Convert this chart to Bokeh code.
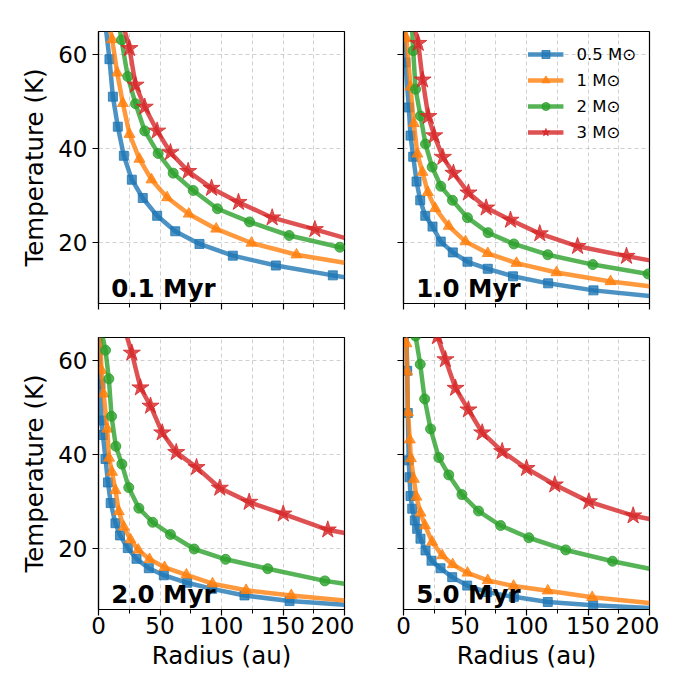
from bokeh.plotting import figure
from bokeh.models import FixedTicker, Label, CustomJSTickFormatter, Range1d
from bokeh.layouts import row, column
from bokeh.embed import file_html
from bokeh.resources import INLINE

AGES = ["0.1 Myr", "1.0 Myr", "2.0 Myr", "5.0 Myr"]
MASSES = ["0.5 M\u2299", "1 M\u2299", "2 M\u2299", "3 M\u2299"]
X_TICKS = [0, 50, 100, 150, 200]
X_MINOR = [25, 75, 125, 175]
Y_TICKS = [20, 40, 60]

# ---- 0.1 Myr (first/last entries are where the curve leaves the frame) ----
r_01_m05 = [6.3, 8.9, 11.7, 15.7, 20.6, 27.1, 36.0, 47.7, 62.4, 82.1, 109.2, 144.2, 190.5, 200]
t_01_m05 = [65, 59.1, 51.1, 44.7, 38.5, 33.4, 29.5, 25.7, 22.4, 19.7, 17.2, 15.1, 13.0, 12.6]
r_01_m1 = [9.8, 11.1, 15.2, 19.8, 25.2, 33.3, 43.1, 55.8, 73.4, 95.7, 124.4, 161.0, 200]
t_01_m1 = [65, 63.3, 56.2, 49.7, 43.1, 37.8, 33.4, 29.6, 26.1, 22.9, 19.9, 17.4, 15.7]
r_01_m2 = [17.6, 18.7, 23.8, 30.1, 37.6, 48.5, 60.7, 77.0, 96.7, 122.8, 155.0, 196.2, 200]
t_01_m2 = [65, 63.2, 55.4, 49.6, 43.8, 39.0, 34.8, 31.1, 27.2, 24.4, 21.5, 19.0, 18.9]
r_01_m3 = [21.5, 25.2, 30.1, 37.6, 47.7, 58.5, 72.9, 91.9, 113.8, 141.2, 175.9, 200]
t_01_m3 = [65, 61.4, 53.6, 48.9, 43.8, 39.2, 35.2, 31.6, 28.6, 25.3, 22.8, 21.0]

# ---- 1.0 Myr ----
r_10_m05 = [0.5, 1.6, 4.3, 5.7, 7.9, 10.6, 13.6, 17.7, 23.6, 30.3, 40.1, 52.0, 68.5, 89.0, 117.6, 154.5, 200]
t_10_m05 = [65, 58.4, 48.8, 42.8, 38.3, 33.0, 29.0, 25.7, 23.4, 20.2, 17.9, 15.9, 14.4, 12.8, 11.3, 9.8, 8.6]
r_10_m1 = [1.6, 2.4, 5.7, 8.4, 11.3, 15.4, 19.8, 25.8, 36.8, 50.4, 68.5, 91.9, 124.4, 168.3, 200]
t_10_m1 = [65, 63.5, 53.2, 45.4, 38.9, 35.0, 30.7, 27.3, 23.5, 20.2, 17.7, 15.6, 13.6, 11.7, 10.7]
r_10_m2 = [7.1, 7.9, 9.8, 13.8, 17.9, 23.3, 30.3, 39.8, 52.0, 68.8, 89.7, 117.3, 153.9, 198.9, 200]
t_10_m2 = [65, 60.9, 52.7, 47.0, 41.0, 36.1, 32.0, 29.0, 25.3, 22.1, 19.7, 17.4, 15.3, 13.3, 13.2]
r_10_m3 = [9.8, 12.0, 15.5, 20.2, 25.0, 32.0, 40.6, 52.8, 67.2, 87.0, 110.8, 141.5, 181.3, 200]
t_10_m3 = [65, 62.5, 54.7, 46.9, 42.8, 38.2, 34.8, 30.6, 27.4, 24.8, 21.9, 19.2, 17.1, 16.2]

# ---- 2.0 Myr ----
r_20_m05 = [0.8, 1.6, 2.4, 3.6, 5.7, 7.7, 9.9, 13.8, 17.5, 23.8, 30.9, 40.9, 53.1, 72.1, 92.4, 118.7, 155.3, 200]
t_20_m05 = [65, 55.0, 47.3, 44.2, 39.1, 34.1, 29.7, 25.4, 22.8, 20.1, 17.8, 15.8, 14.3, 12.7, 11.4, 10.0, 8.8, 8.0]
r_20_m1 = [1.5, 2.4, 4.1, 7.1, 8.6, 11.0, 13.8, 16.5, 20.6, 26.0, 32.3, 41.5, 53.7, 71.5, 92.7, 120.0, 156.7, 200]
t_20_m1 = [65, 58.0, 53.0, 45.5, 39.3, 36.3, 32.4, 27.9, 24.6, 21.9, 19.7, 17.7, 16.0, 14.4, 12.5, 11.1, 10.0, 8.9]
r_20_m2 = [3.5, 5.7, 8.4, 10.6, 14.1, 19.0, 24.6, 32.8, 44.0, 58.5, 77.8, 103.3, 137.6, 184.0, 200]
t_20_m2 = [65, 62.3, 56.2, 48.2, 41.8, 38.0, 33.0, 28.6, 25.6, 23.0, 19.9, 17.7, 15.7, 13.1, 12.5]
r_20_m3 = [23.3, 27.1, 34.1, 42.3, 51.8, 63.2, 79.7, 98.6, 122.5, 150.2, 186.4, 200]
t_20_m3 = [65, 61.7, 54.3, 50.4, 44.7, 40.5, 37.3, 32.9, 29.9, 27.4, 24.0, 23.3]

# ---- 5.0 Myr ----
r_50_m05 = [2.5, 3.0, 3.5, 4.2, 4.9, 5.7, 7.1, 9.2, 11.1, 13.8, 17.9, 22.8, 30.1, 39.6, 51.8, 68.0, 89.7, 117.3, 154.2, 200]
t_50_m05 = [65, 57.9, 48.9, 38.8, 35.2, 31.2, 28.5, 26.0, 24.2, 22.1, 19.6, 17.4, 15.8, 13.9, 12.1, 10.7, 9.7, 8.6, 7.9, 7.3]
r_50_m1 = [2.0, 2.4, 3.0, 3.6, 5.1, 6.0, 8.4, 10.5, 13.8, 17.5, 23.3, 31.5, 40.0, 52.0, 68.5, 89.5, 117.3, 153.4, 200]
t_50_m1 = [65, 63.7, 57.7, 49.0, 43.2, 39.2, 34.8, 31.0, 27.6, 24.9, 21.4, 18.5, 16.6, 14.8, 13.2, 12.0, 11.0, 9.6, 8.4]
r_50_m2 = [9.2, 9.8, 13.6, 17.2, 22.0, 28.7, 36.8, 47.5, 61.0, 78.9, 101.9, 131.9, 169.9, 200]
t_50_m2 = [66, 65.3, 59.3, 51.9, 45.5, 39.4, 35.7, 31.5, 28.0, 24.9, 22.3, 19.7, 17.3, 15.7]
r_50_m3 = [27.0, 27.6, 34.1, 42.3, 52.8, 64.0, 80.2, 100.0, 123.0, 150.7, 186.7, 200]
t_50_m3 = [66, 65.2, 60.3, 54.2, 49.6, 44.7, 40.7, 37.1, 33.6, 30.0, 27.0, 26.3]

PANELS = [
    [(r_01_m05, t_01_m05), (r_01_m1, t_01_m1), (r_01_m2, t_01_m2), (r_01_m3, t_01_m3)],
    [(r_10_m05, t_10_m05), (r_10_m1, t_10_m1), (r_10_m2, t_10_m2), (r_10_m3, t_10_m3)],
    [(r_20_m05, t_20_m05), (r_20_m1, t_20_m1), (r_20_m2, t_20_m2), (r_20_m3, t_20_m3)],
    [(r_50_m05, t_50_m05), (r_50_m1, t_50_m1), (r_50_m2, t_50_m2), (r_50_m3, t_50_m3)],
]

COLORS = ["#1f77b4", "#ff7f0e", "#2ca02c", "#d62728"]
MARKERS = ["square", "triangle", "circle", "star"]
MSIZES = [9, 11, 10, 18]
FONT = "DejaVu Sans"


def make_panel(idx):
    left = idx in (0, 2)
    bottom = idx in (2, 3)
    p = figure(
        frame_width=246, frame_height=272,
        x_range=Range1d(0, 200), y_range=Range1d(7, 65),
        output_backend="svg", toolbar_location=None,
        min_border_left=98 if left else 49,
        min_border_right=10,
        min_border_top=31 if idx < 2 else 24,
        min_border_bottom=75 if bottom else 10,
        background_fill_color="white", border_fill_color="white",
    )
    p.outline_line_color = "black"
    p.outline_line_width = 1.2
    p.outline_line_alpha = 1

    # axes
    p.xaxis.ticker = FixedTicker(ticks=X_TICKS, minor_ticks=X_MINOR)
    p.yaxis.ticker = FixedTicker(ticks=Y_TICKS, minor_ticks=[])
    for ax in (p.xaxis[0], p.yaxis[0]):
        ax.axis_line_color = "black"
        ax.axis_line_width = 1.2
        ax.major_tick_line_color = "black"
        ax.minor_tick_line_color = "black"
        ax.major_tick_line_width = 1.2
        ax.minor_tick_line_width = 1
        ax.major_tick_in = 0
        ax.major_tick_out = 6
        ax.minor_tick_in = 0
        ax.minor_tick_out = 4
        ax.major_label_text_font = FONT
        ax.major_label_text_font_size = "23px"
        ax.major_label_text_color = "black"
        ax.axis_label_text_font = FONT
        ax.axis_label_text_font_size = "24.5px"
        ax.axis_label_text_font_style = "normal"
        ax.axis_label_text_color = "black"
    p.xaxis.major_label_standoff = 1
    p.xaxis.axis_label_standoff = 4
    p.yaxis.major_label_standoff = 5
    p.yaxis.axis_label_standoff = 6
    if left:
        p.yaxis.axis_label = "Temperature (K)"
    else:
        p.yaxis.formatter = CustomJSTickFormatter(code="return ''")
    if bottom:
        p.xaxis.axis_label = "Radius (au)"
    else:
        p.xaxis.formatter = CustomJSTickFormatter(code="return ''")

    # grid
    for g in (p.xgrid[0], p.ygrid[0]):
        g.grid_line_color = "#b0b0b0"
        g.grid_line_alpha = 0.6
        g.grid_line_dash = "4 3"
        g.grid_line_width = 1
    p.xgrid.minor_grid_line_color = "#b0b0b0"
    p.xgrid.minor_grid_line_alpha = 0.6
    p.xgrid.minor_grid_line_dash = "4 3"
    p.xgrid.minor_grid_line_width = 1

    for k, (r, t) in enumerate(PANELS[idx]):
        c = COLORS[k]
        kw = dict(legend_label=MASSES[k]) if idx == 1 else {}
        p.line(r, t, line_color=c, line_width=4.5, line_alpha=0.8,
               line_join="round", **kw)
        p.scatter(r[1:-1], t[1:-1], marker=MARKERS[k], size=MSIZES[k],
                  fill_color=c, line_color=c, fill_alpha=0.8, line_alpha=0.8,
                  **kw)

    p.add_layout(Label(x=10.3, y=10.2, text=AGES[idx], text_font=FONT,
                       text_font_size="24.5px", text_font_style="bold",
                       text_color="black", text_baseline="alphabetic",
                       text_align="left"))

    if idx == 1:
        lg = p.legend[0]
        lg.location = "top_right"
        lg.border_line_alpha = 0
        lg.background_fill_alpha = 0
        lg.label_text_font = FONT
        lg.label_text_font_size = "16.5px"
        lg.label_text_color = "black"
        lg.glyph_width = 36
        lg.glyph_height = 20
        lg.label_height = 20
        lg.label_standoff = 13
        lg.spacing = 6
        lg.margin = 8
        lg.padding = 5
    return p


panels = [make_panel(i) for i in range(4)]
layout = column(row(panels[0], panels[1]), row(panels[2], panels[3]))

open("out.html", "w").write(file_html(layout, INLINE))
